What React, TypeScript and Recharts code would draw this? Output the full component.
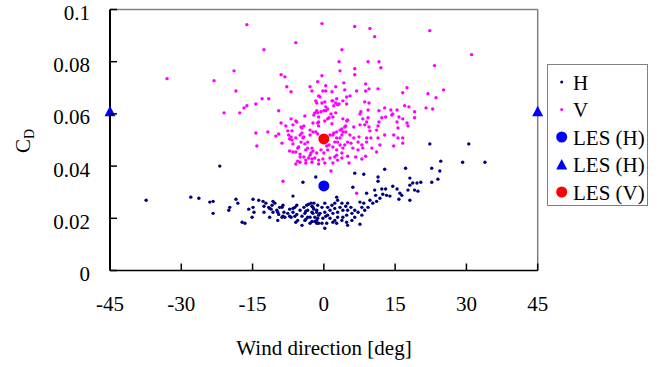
import React from 'react';
import { ScatterChart, Scatter, XAxis, YAxis, ReferenceLine, Legend } from 'recharts';

// [wind direction (deg), C_D]
const hPoints: [number, number][] = [
  [-37.4, 0.0269], [-21.9, 0.04], [-28.0, 0.0281], [-26.3, 0.0277], [-24.0, 0.0262], [-23.3, 0.0265],
  [-23.3, 0.0219], [-20.0, 0.0231], [-19.8, 0.0242], [-18.5, 0.0273], [-18.1, 0.0258], [-17.2, 0.0185],
  [-16.6, 0.0181], [-15.1, 0.0204], [-15.8, 0.0235], [-14.9, 0.0273], [-14.9, 0.0242], [-14.7, 0.0223],
  [-13.7, 0.0269], [-12.8, 0.0265], [-12.6, 0.0246], [-12.6, 0.0223], [-12.2, 0.0258], [-11.6, 0.0242],
  [-11.4, 0.0204], [-11.1, 0.0235], [-10.7, 0.0265], [-10.3, 0.0258], [-9.9, 0.0231], [-9.5, 0.0215],
  [-9.3, 0.0242], [-8.8, 0.0242], [-8.6, 0.025], [-8.4, 0.0223], [-8.2, 0.0204], [-8.8, 0.0204],
  [-7.6, 0.0219], [-7.2, 0.0235], [-6.9, 0.0204], [-6.5, 0.0285], [-6.5, 0.0223], [-6.1, 0.0242],
  [-5.7, 0.025], [-5.7, 0.0215], [-5.5, 0.0192], [-5.0, 0.0231], [-4.6, 0.0208], [-4.6, 0.0173],
  [-4.4, 0.0338], [-4.2, 0.0242], [-4.0, 0.0219], [-3.8, 0.0196], [-3.6, 0.025], [-3.4, 0.0231],
  [-2.9, 0.0204], [-2.7, 0.0258], [-2.5, 0.0188], [-2.3, 0.0242], [-2.3, 0.0219], [-1.9, 0.0204],
  [-1.7, 0.0358], [-1.5, 0.0231], [-1.5, 0.0192], [-1.3, 0.025], [-1.1, 0.0212],
  [-11.4, 0.0238], [-10.9, 0.025], [-10.7, 0.0223], [-9.7, 0.0223], [-9.7, 0.0192], [-8.6, 0.0208],
  [-6.5, 0.0238], [-7.2, 0.0208], [-6.1, 0.0208], [-5.9, 0.0185], [-4.0, 0.0192], [-3.2, 0.0254],
  [-2.5, 0.0246], [-2.5, 0.0223], [-2.1, 0.0258], [-2.1, 0.0235], [-1.9, 0.0188], [-1.5, 0.0223],
  [-1.1, 0.0181], [-3.4, 0.0204],
  [6.5, 0.0373], [8.4, 0.0369], [11.4, 0.0358], [11.4, 0.0342], [18.1, 0.0354], [18.7, 0.0335],
  [19.6, 0.0335], [20.4, 0.0338], [17.7, 0.0308], [18.1, 0.0269], [6.1, 0.0319], [9.0, 0.0296],
  [10.7, 0.0308], [10.9, 0.0288], [12.2, 0.0312], [13.0, 0.0312], [12.4, 0.0292], [13.2, 0.0288],
  [13.9, 0.0285], [14.5, 0.0323], [15.4, 0.0312], [16.0, 0.0296], [15.8, 0.0273], [16.4, 0.0288],
  [11.8, 0.0277], [11.1, 0.0265], [10.3, 0.0258], [9.7, 0.0269], [9.3, 0.0242], [8.4, 0.0258],
  [8.6, 0.0231], [8.0, 0.0242], [7.2, 0.0223], [7.6, 0.0262], [6.5, 0.0231], [5.7, 0.0242],
  [5.9, 0.0219], [5.0, 0.0258], [5.0, 0.0231], [4.6, 0.0246], [4.8, 0.0212], [4.0, 0.0231],
  [3.8, 0.0258], [2.9, 0.0269], [2.7, 0.0281], [3.4, 0.0242], [2.9, 0.0223], [2.3, 0.0258],
  [2.3, 0.0238], [1.9, 0.0219], [1.7, 0.025], [1.3, 0.0231], [0.8, 0.0242], [0.8, 0.0212],
  [0.2, 0.0258], [0.2, 0.0223], [-0.4, 0.0242], [-0.8, 0.0219], [-1.3, 0.02], [-0.2, 0.02],
  [1.3, 0.02], [2.3, 0.0192], [2.9, 0.0204], [3.8, 0.0192], [4.8, 0.0185], [0.6, 0.0181],
  [-0.4, 0.0181], [0.2, 0.0162], [2.7, 0.0181], [5.0, 0.0173], [6.5, 0.0204], [8.0, 0.0212],
  [-1.5, 0.0181], [19.1, 0.0308],
  [22.3, 0.0485], [30.5, 0.0485], [24.6, 0.0419], [29.2, 0.0415], [33.9, 0.0415], [22.7, 0.0392],
  [24.4, 0.0381], [24.0, 0.035], [22.7, 0.0338], [17.2, 0.0392], [12.8, 0.0388], [19.8, 0.0304],
  [18.1, 0.0327], [7.6, 0.0177],
  [1.9, 0.0185], [-2.9, 0.0181], [-3.8, 0.0227], [4.0, 0.0204], [5.9, 0.0192], [0.4, 0.0208],
];

const vPoints: [number, number][] = [
  [-16.2, 0.0942], [-5.9, 0.0873], [-12.6, 0.0846], [-33.0, 0.0735], [-23.1, 0.0727], [-18.9, 0.0765],
  [-18.5, 0.0688], [-9.0, 0.075], [-8.2, 0.0742], [-7.8, 0.0704], [-6.9, 0.0685], [-2.9, 0.0704],
  [-2.5, 0.0688], [-1.3, 0.0723], [-13.0, 0.0658], [-11.6, 0.0658], [-14.3, 0.0638], [-16.8, 0.0623],
  [-16.2, 0.0631], [-21.0, 0.0604], [-17.7, 0.0604], [-9.5, 0.0612], [-4.0, 0.0592], [-1.9, 0.0604],
  [-1.3, 0.0604], [-1.7, 0.065], [-1.1, 0.0669], [-6.9, 0.0581], [-5.9, 0.0573], [-8.0, 0.0554],
  [-9.0, 0.0565], [-14.3, 0.0527], [-11.8, 0.0531], [-9.5, 0.0523], [-7.6, 0.0535], [-6.7, 0.0535],
  [-4.8, 0.055], [-4.2, 0.0554], [-2.3, 0.0565], [-1.3, 0.0565], [-10.1, 0.0515], [-14.1, 0.0477],
  [-8.8, 0.0488], [-7.4, 0.0519], [-6.5, 0.0558], [-5.7, 0.0569], [-6.7, 0.05], [-6.5, 0.0485],
  [-5.0, 0.0519], [-4.6, 0.0527], [-4.2, 0.0512], [-5.5, 0.0469], [-5.9, 0.0454], [-5.0, 0.0446],
  [-7.2, 0.0458], [-5.9, 0.0408], [-5.0, 0.0415], [-3.8, 0.0412], [-3.8, 0.0423], [-3.2, 0.0431],
  [-2.5, 0.0427], [-1.9, 0.0431], [-2.7, 0.045], [-3.4, 0.0469], [-2.3, 0.0458], [-1.5, 0.045],
  [-1.1, 0.0408], [-8.6, 0.0342], [6.9, 0.0296], [1.5, 0.0381],
  [-1.1, 0.0588], [-1.1, 0.0569], [0.2, 0.0573], [1.1, 0.0585], [1.5, 0.06], [1.7, 0.0562],
  [-1.5, 0.0612], [-0.6, 0.0608], [0.4, 0.0627], [0.4, 0.0612], [2.5, 0.0604], [2.5, 0.0642],
  [1.7, 0.065], [0.2, 0.0646], [-0.8, 0.0665], [-0.4, 0.0642], [2.7, 0.0658], [2.9, 0.0635],
  [-6.9, 0.0512], [-7.2, 0.0504], [-5.9, 0.0508], [-4.4, 0.0508], [-4.8, 0.0492], [-3.4, 0.0492],
  [-2.9, 0.0519], [-2.3, 0.0531], [-1.7, 0.0531], [-1.3, 0.0523], [-4.0, 0.0485], [-5.3, 0.0473],
  [-6.5, 0.0454], [-3.8, 0.0462], [-2.5, 0.0469], [-2.9, 0.0442], [-0.6, 0.0462], [0, 0.045],
  [0.8, 0.0462], [1.1, 0.0481], [1.9, 0.0473], [2.3, 0.0492], [2.7, 0.0508], [1.9, 0.0519],
  [0.6, 0.0477], [-1.1, 0.0423], [-0.2, 0.0427], [1.3, 0.0431], [2.3, 0.0435], [-2.5, 0.0415],
  [-5.5, 0.0419], [0.2, 0.0412], [1.9, 0.0412], [2.9, 0.0423], [-4.2, 0.0435], [-5.0, 0.0435],
  [-0.4, 0.0946], [6.5, 0.0935], [9.7, 0.0927], [10.7, 0.0896], [22.3, 0.0919], [31.1, 0.0827],
  [3.8, 0.0846], [3.2, 0.08], [3.4, 0.0765], [9.3, 0.08], [11.6, 0.08], [12.0, 0.0777],
  [6.5, 0.0773], [6.5, 0.075], [23.3, 0.0785], [-0.4, 0.0746], [-0.2, 0.0688], [0.4, 0.0688],
  [0.4, 0.0708], [2.5, 0.0704], [1.7, 0.0685], [4.2, 0.0719], [4.4, 0.0692], [6.9, 0.0688],
  [8.8, 0.0715], [9.5, 0.0696], [8.8, 0.0688], [11.4, 0.0696], [17.5, 0.07], [16.6, 0.0681],
  [25.2, 0.0692], [21.9, 0.0677], [23.6, 0.0662], [-1.5, 0.0642], [1.9, 0.065], [4.0, 0.065],
  [4.8, 0.0665], [5.5, 0.0669], [4.8, 0.0638], [3.2, 0.0638], [2.1, 0.0631], [0.8, 0.0619],
  [0, 0.0612], [-2.1, 0.0596], [8.6, 0.0646], [9.5, 0.0642], [7.8, 0.0608], [7.6, 0.06],
  [11.6, 0.0612], [12.8, 0.0623], [14.1, 0.0615], [15.4, 0.0615], [15.8, 0.0588], [14.5, 0.06],
  [17.0, 0.0631], [17.9, 0.0627], [19.1, 0.0608], [19.1, 0.0585], [21.5, 0.0623], [22.9, 0.0619],
  [16.6, 0.0581], [17.5, 0.0565], [15.6, 0.0546], [17.7, 0.0554], [13.0, 0.0588], [12.2, 0.0585],
  [11.4, 0.0554], [9.3, 0.0585], [9.0, 0.0569], [9.5, 0.055], [8.6, 0.0558], [7.6, 0.0558],
  [4.8, 0.0573], [4.0, 0.0581], [1.9, 0.0588], [0.8, 0.0581], [-1.1, 0.0554], [4.4, 0.055],
  [4.0, 0.0531], [3.4, 0.0538], [2.7, 0.0531], [3.8, 0.0519], [2.1, 0.0527], [1.3, 0.0519],
  [-4.6, 0.0546], [-2.9, 0.0538], [6.3, 0.0508], [7.4, 0.0512], [9.0, 0.0508], [9.9, 0.0508],
  [12.8, 0.0519], [14.7, 0.0519], [15.6, 0.0508], [16.6, 0.0508], [5.5, 0.0519],
  [9.3, 0.0615], [14.3, 0.0596], [15.4, 0.0569], [11.6, 0.0569], [8.2, 0.0581], [5.0, 0.0577],
  [4.6, 0.0554], [3.8, 0.0542], [4.6, 0.0531], [6.3, 0.055], [9.7, 0.0535], [11.1, 0.0538],
  [16.6, 0.0488], [14.7, 0.0477], [11.8, 0.0481], [11.1, 0.0454], [10.1, 0.0469], [9.0, 0.0492],
  [8.0, 0.0481], [7.2, 0.0492], [5.7, 0.0488], [6.1, 0.0469], [7.2, 0.0462], [8.2, 0.0469],
  [8.8, 0.0438], [8.0, 0.0427], [6.7, 0.0435], [5.0, 0.0438], [5.3, 0.0412], [3.8, 0.0431],
  [3.4, 0.0508], [2.9, 0.0492], [3.4, 0.0481], [4.0, 0.0469], [2.7, 0.0462], [2.7, 0.0442],
  [3.8, 0.045], [4.4, 0.0481], [5.0, 0.0492], [11.4, 0.0508],
];

const lesHCircle: [number, number][] = [[0, 0.0324]];
const lesHTriangle: [number, number][] = [[-45, 0.061], [45, 0.061]];
const lesV: [number, number][] = [[0, 0.0504]];

const xTicks = [-45, -30, -15, 0, 15, 30, 45];
const yTicks = [0, 0.02, 0.04, 0.06, 0.08, 0.1];
const legendLabels = ['H', 'V', 'LES (H)', 'LES (H)', 'LES (V)'];

const NAVY = '#000080';
const MAGENTA = '#FF00FF';
const BLUE = '#0000FF';
const RED = '#FF0000';
const FONT = '"Liberation Serif", "Times New Roman", serif';

const W = 659;
const H = 367;
const PLOT_LEFT = 110;
const PLOT_TOP = 9.5;
const PLOT_RIGHT = 537.7;
const PLOT_BOTTOM = 270.5;
const Y_AXIS_W = 70;
const X_AXIS_H = 30;

const toXY = (pts: [number, number][]) => pts.map(([x, y]) => ({ x, y }));

const dot = (color: string, r: number) => (p: any) => (
  <circle cx={p.cx} cy={p.cy} r={r} fill={color} />
);

const triangle = (color: string) => (p: any) => (
  <polygon
    points={`${p.cx},${p.cy - 5.5} ${p.cx - 5.5},${p.cy + 5} ${p.cx + 5.5},${p.cy + 5}`}
    fill={color}
  />
);

const XTick = (props: any) => {
  const { x, payload } = props;
  return (
    <g>
      <line x1={x} x2={x} y1={PLOT_BOTTOM} y2={PLOT_BOTTOM - 7} stroke="#000" strokeWidth={1.5} />
      <text x={x} y={PLOT_BOTTOM + 40} textAnchor="middle" style={{ fontFamily: FONT }} fontSize={21} fill="#000">
        {payload.value}
      </text>
    </g>
  );
};

const YTick = (props: any) => {
  const { y, payload } = props;
  return (
    <g>
      <line x1={PLOT_LEFT} x2={PLOT_LEFT + 7} y1={y} y2={y} stroke="#000" strokeWidth={1.5} />
      <text x={PLOT_LEFT - 20} y={y + 10.5} textAnchor="end" style={{ fontFamily: FONT }} fontSize={21} fill="#000">
        {String(payload.value)}
      </text>
    </g>
  );
};

const YTitle = () => (
  <text transform="translate(30,141) rotate(-90)" textAnchor="middle" style={{ fontFamily: FONT }} fontSize={21} fill="#000">
    C<tspan fontSize={14} dy={4}>D</tspan>
  </text>
);

const XTitle = () => (
  <text x={324} y={355} textAnchor="middle" style={{ fontFamily: FONT }} fontSize={21} fill="#000">
    Wind direction [deg]
  </text>
);

const legendMarker = (i: number, cx: number, cy: number) => {
  if (i === 0) return <circle cx={cx} cy={cy} r={1.5} fill={NAVY} />;
  if (i === 1) return <circle cx={cx} cy={cy} r={1.5} fill={MAGENTA} />;
  if (i === 2) return <circle cx={cx} cy={cy} r={5.5} fill={BLUE} />;
  if (i === 3)
    return <polygon points={`${cx},${cy - 5.5} ${cx - 5.5},${cy + 5} ${cx + 5.5},${cy + 5}`} fill={BLUE} />;
  return <circle cx={cx} cy={cy} r={5.5} fill={RED} />;
};

const LegendBox = () => (
  <svg width={101} height={142} style={{ display: 'block' }}>
    <rect x={0.5} y={0.5} width={100} height={141} fill="#fff" stroke="#808080" />
    {legendLabels.map((label, i) => {
      const cy = 18 + i * 27.5;
      return (
        <g key={i}>
          {legendMarker(i, 14.7, cy)}
          <text x={26} y={cy + 7.5} style={{ fontFamily: FONT }} fontSize={21} fill="#000">
            {label}
          </text>
        </g>
      );
    })}
  </svg>
);

export default function App() {
  return (
    <div style={{ position: 'absolute', left: 0, top: 0, width: W, height: H, background: '#fff' }}>
      <ScatterChart
        width={W}
        height={H}
        margin={{
          top: PLOT_TOP,
          right: W - PLOT_RIGHT,
          left: PLOT_LEFT - Y_AXIS_W,
          bottom: H - PLOT_BOTTOM - X_AXIS_H,
        }}
      >
        <XAxis
          type="number"
          dataKey="x"
          domain={[-45, 45]}
          ticks={xTicks}
          height={X_AXIS_H}
          tick={<XTick />}
          tickLine={false}
          axisLine={{ stroke: '#000', strokeWidth: 1.5 }}
          label={<XTitle />}
        />
        <YAxis
          type="number"
          dataKey="y"
          domain={[0, 0.1]}
          ticks={yTicks}
          width={Y_AXIS_W}
          tick={<YTick />}
          tickLine={false}
          axisLine={{ stroke: '#000', strokeWidth: 2 }}
          label={<YTitle />}
        />
        <ReferenceLine y={0.1} stroke="#808080" strokeWidth={1.5} />
        <ReferenceLine x={45} stroke="#808080" strokeWidth={1.5} />
        <Legend
          layout="horizontal"
          verticalAlign="middle"
          align="center"
          content={<LegendBox />}
          wrapperStyle={{ position: 'absolute', left: 547, top: 64, width: 101, height: 142 }}
        />
        <Scatter name="H" data={toXY(hPoints)} shape={dot(NAVY, 1.7)} isAnimationActive={false} />
        <Scatter name="V" data={toXY(vPoints)} shape={dot(MAGENTA, 1.7)} isAnimationActive={false} />
        <Scatter name="LES (H)" data={toXY(lesHCircle)} shape={dot(BLUE, 5.5)} isAnimationActive={false} />
        <Scatter name="LES (H) tri" data={toXY(lesHTriangle)} shape={triangle(BLUE)} isAnimationActive={false} />
        <Scatter name="LES (V)" data={toXY(lesV)} shape={dot(RED, 5.5)} isAnimationActive={false} />
      </ScatterChart>
    </div>
  );
}
